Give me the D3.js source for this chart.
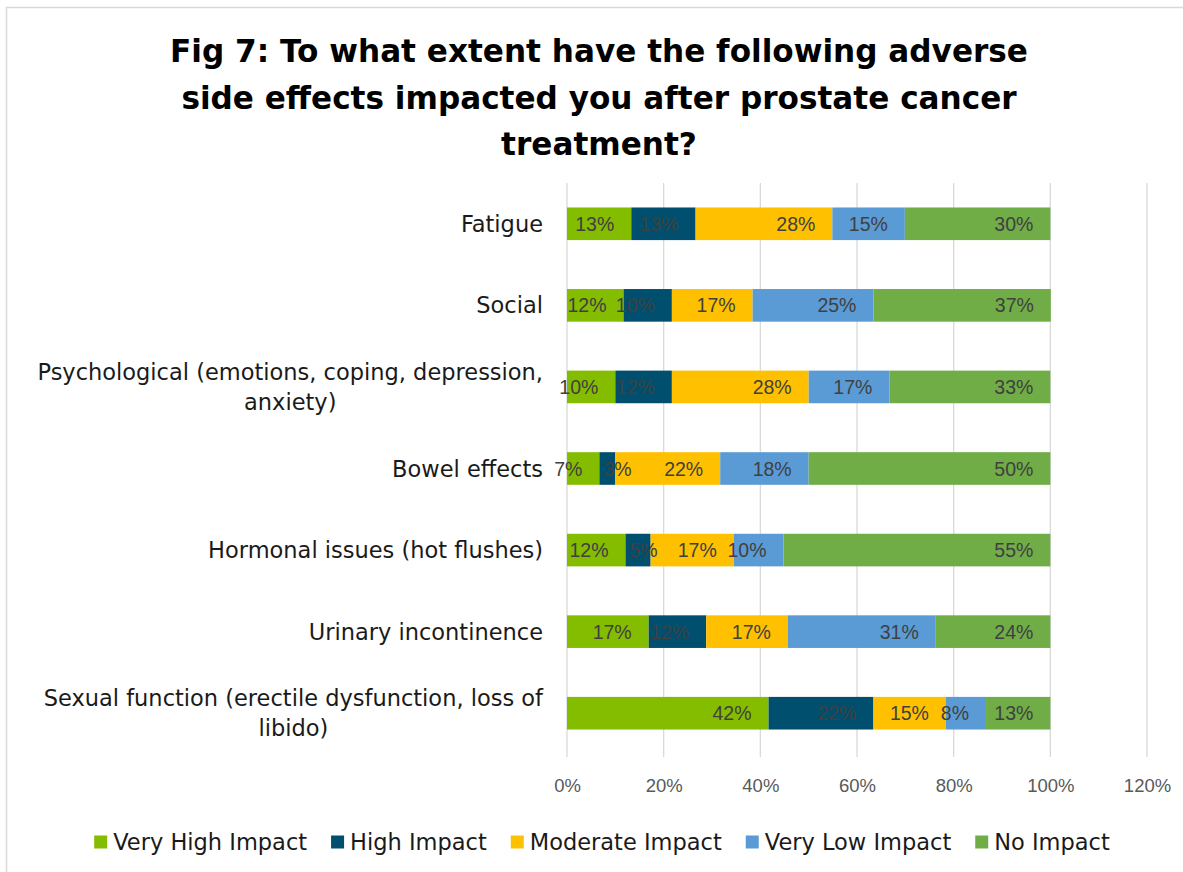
<!DOCTYPE html>
<html>
<head>
<meta charset="utf-8">
<script src="https://cdn.jsdelivr.net/npm/d3@7"></script>
<style>
  body { margin: 0; background: #fff; }
  svg { display: block; }
</style>
</head>
<body>
<svg id="chart" width="1183" height="872"></svg>
<script>
// ---- data ----
const titleLines = [
  "Fig 7: To what extent have the following adverse",
  "side effects impacted you after prostate cancer",
  "treatment?"
];
const categories = [
  "Fatigue",
  "Social",
  "Psychological (emotions, coping, depression, anxiety)",
  "Bowel effects",
  "Hormonal issues (hot flushes)",
  "Urinary incontinence",
  "Sexual function (erectile dysfunction, loss of libido)"
];
const seriesNames = ["Very High Impact", "High Impact", "Moderate Impact", "Very Low Impact", "No Impact"];
const seriesColors = ["#84BC00", "#004F6E", "#FFC000", "#5B9BD5", "#70AD47"];
// percentages of respondents, one value per category
const veryHighImpact = [13.3, 11.7, 10.0, 6.7, 12.1, 16.9, 41.7];
const highImpact     = [13.3, 10.0, 11.7, 3.3, 5.2, 11.9, 21.7];
const moderateImpact = [28.3, 16.7, 28.3, 21.7, 17.2, 16.9, 15.0];
const veryLowImpact  = [15.0, 25.0, 16.7, 18.3, 10.3, 30.6, 8.3];
const noImpact       = [30.1, 36.7, 33.3, 50.0, 55.2, 23.7, 13.3];
const xTicks = [0, 20, 40, 60, 80, 100, 120];

const seriesValues = [veryHighImpact, highImpact, moderateImpact, veryLowImpact, noImpact];

// ---- layout ----
const W = 1183, H = 872;
const plot = { left: 567, right: 1147, top: 183, bottom: 754 };
const catFont = "'DejaVu Sans', sans-serif";
const numFont = "'Liberation Sans', Arial, sans-serif";

const svg = d3.select("#chart");

// outer chart border
svg.append("rect")
  .attr("x", 6.5).attr("y", 7.5)
  .attr("width", W + 10).attr("height", H + 10)
  .attr("fill", "#fff").attr("stroke", "#d9d9d9").attr("stroke-width", 1.5);

const x = d3.scaleLinear().domain([0, 120]).range([plot.left, plot.right]);
const y = d3.scaleBand().domain(categories).range([plot.top, plot.bottom])
  .paddingInner(0.6).paddingOuter(0.3);

// ---- title ----
const title = svg.append("g").attr("class", "title");
const titleBaselines = [62, 109, 155];
const titleTexts = title.selectAll("text").data(titleLines).join("text")
  .attr("x", 599).attr("y", (d, i) => titleBaselines[i])
  .attr("text-anchor", "middle")
  .attr("font-family", catFont).attr("font-weight", "bold")
  .attr("font-size", 32).attr("fill", "#000")
  .text(d => d);
{
  const w0 = titleTexts.nodes()[0].getComputedTextLength();
  const fs = Math.min(32, 32 * 858 / w0);
  titleTexts.attr("font-size", fs);
}

// ---- gridlines ----
svg.append("g").attr("class", "grid")
  .selectAll("line").data(xTicks).join("line")
  .attr("x1", d => x(d)).attr("x2", d => x(d))
  .attr("y1", plot.top).attr("y2", plot.bottom + 3)
  .attr("stroke", "#d9d9d9").attr("stroke-width", 1.3);

// ---- x axis labels ----
const xAxis = svg.append("g")
  .attr("transform", `translate(0,${plot.bottom})`)
  .call(d3.axisBottom(x).tickValues(xTicks).tickSize(0).tickPadding(25).tickFormat(d => d + "%"));
xAxis.select(".domain").remove();
xAxis.selectAll("text")
  .attr("font-family", numFont).attr("font-size", 18.5).attr("fill", "#595959");

// ---- stacked bars ----
const rows = categories.map((c, i) => {
  let acc = 0;
  return seriesValues.map((vals, s) => {
    const v = vals[i];
    const seg = { cat: c, s, v, x0: acc, x1: acc + v };
    acc += v;
    return seg;
  });
});

const bars = svg.append("g").attr("class", "bars");
rows.forEach(row => {
  bars.selectAll(null).data(row).join("rect")
    .attr("x", d => x(d.x0))
    .attr("y", d => y(d.cat))
    .attr("width", d => x(d.x1) - x(d.x0))
    .attr("height", y.bandwidth())
    .attr("fill", d => seriesColors[d.s]);
});

// ---- data labels (inside end, nudged right when they would collide) ----
const fmt = v => Math.round(v) + "%";
const labels = svg.append("g").attr("class", "labels");
rows.forEach(row => {
  let prevEnd = -Infinity;
  row.forEach(d => {
    const t = labels.append("text")
      .attr("font-family", numFont).attr("font-size", 19.5).attr("fill", "#404040")
      .attr("y", y(d.cat) + y.bandwidth() / 2).attr("dy", "0.36em")
      .text(fmt(d.v));
    const w = t.node().getComputedTextLength();
    let start = x(d.x1) - 17 - w;
    if (start < prevEnd + 4) start = Math.max(x(d.x0) + 4, prevEnd + 20);
    t.attr("x", start);
    prevEnd = start + w;
  });
});

// ---- category labels (wrapped, block right-aligned, lines centred) ----
const catG = svg.append("g").attr("class", "categories");
const catRight = 543, catMax = 530, catSize = 22.5, lineH = 30;
categories.forEach(c => {
  const probe = catG.append("text").attr("font-family", catFont).attr("font-size", catSize);
  const words = c.split(" ");
  const lines = [];
  let cur = "";
  words.forEach(wd => {
    const test = cur ? cur + " " + wd : wd;
    probe.text(test);
    if (probe.node().getComputedTextLength() > catMax && cur) { lines.push(cur); cur = wd; }
    else cur = test;
  });
  lines.push(cur);
  const widths = lines.map(l => { probe.text(l); return probe.node().getComputedTextLength(); });
  probe.remove();
  const blockW = d3.max(widths);
  const cx = catRight - blockW / 2;
  const cy = y(c) + y.bandwidth() / 2;
  lines.forEach((l, i) => {
    catG.append("text")
      .attr("font-family", catFont).attr("font-size", catSize).attr("fill", "#1a1a1a")
      .attr("text-anchor", "middle")
      .attr("x", cx)
      .attr("y", cy + (i - (lines.length - 1) / 2) * lineH)
      .attr("dy", "0.36em")
      .text(l);
  });
});

// ---- legend ----
const legend = svg.append("g").attr("class", "legend");
const legSize = 22.5, sq = 13, sqGap = 6, itemGap = 24, legY = 842;
const items = seriesNames.map((n, i) => {
  const g = legend.append("g");
  g.append("rect").attr("width", sq).attr("height", sq).attr("y", legY - sq / 2)
    .attr("fill", seriesColors[i]);
  const t = g.append("text").attr("x", sq + sqGap).attr("y", legY).attr("dy", "0.36em")
    .attr("font-family", catFont).attr("font-size", legSize).attr("fill", "#1a1a1a").text(n);
  return { g, w: sq + sqGap + t.node().getComputedTextLength() };
});
const total = d3.sum(items, d => d.w) + itemGap * (items.length - 1);
let lx = 602 - total / 2;
items.forEach(it => { it.g.attr("transform", `translate(${lx},0)`); lx += it.w + itemGap; });
</script>
</body>
</html>
